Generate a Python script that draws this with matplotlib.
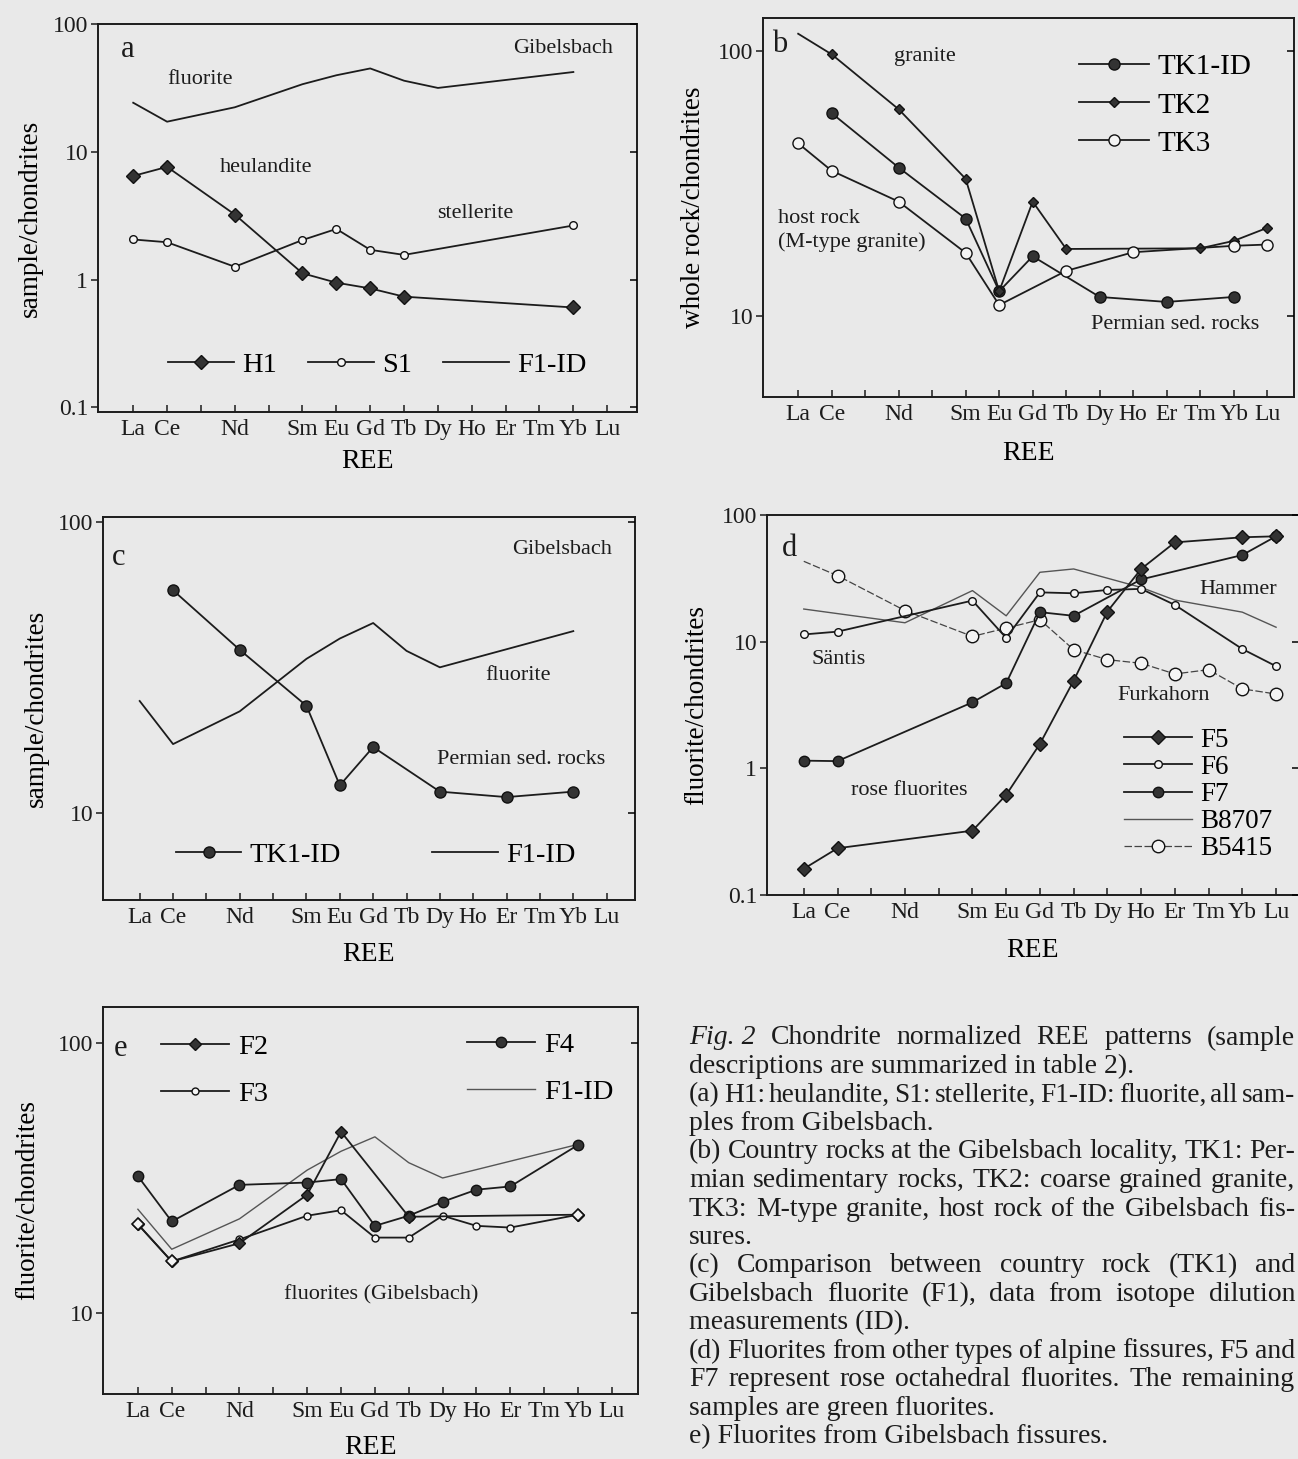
import numpy as np
import matplotlib
matplotlib.use("Agg")
import matplotlib.pyplot as plt
from matplotlib.ticker import FuncFormatter, NullLocator, NullFormatter

plt.rcParams['font.family'] = ['Liberation Serif', 'DejaVu Serif']

W, H = 1298, 1459
BG = '#e9e9e9'
INK = '#1c1c1c'
nan = np.nan

# ---- data ------------------------------------------------------------------
ree = ['La', 'Ce', 'Pr', 'Nd', 'Pm', 'Sm', 'Eu', 'Gd', 'Tb', 'Dy', 'Ho', 'Er', 'Tm', 'Yb', 'Lu']
ree_labels = ['La', 'Ce', '', 'Nd', '', 'Sm', 'Eu', 'Gd', 'Tb', 'Dy', 'Ho', 'Er', 'Tm', 'Yb', 'Lu']

# Gibelsbach fluorite (isotope dilution), used in a, c, e
f1_id = [24.2, 17.2, nan, 22.3, nan, 33.8, 39.7, 44.9, 36.0, 31.6, nan, nan, nan, 42.1, nan]
# (a)
h1 = [6.47, 7.62, nan, 3.23, nan, 1.12, 0.946, 0.853, 0.735, nan, nan, nan, nan, 0.605, nan]
s1 = [2.06, 1.96, nan, 1.26, nan, 2.04, 2.49, 1.71, 1.56, nan, nan, nan, nan, 2.65, nan]
# (b), (c)
tk1_id = [nan, 58.2, nan, 36.3, nan, 23.3, 12.4, 16.8, nan, 11.8, nan, 11.3, nan, 11.8, nan]
tk2 = [116, 97.0, nan, 60.2, nan, 32.9, 12.4, 27.0, 17.9, nan, nan, nan, 18.0, 19.2, 21.5]
tk3 = [44.8, 35.3, nan, 27.0, nan, 17.3, 11.0, nan, 14.8, nan, 17.4, nan, nan, 18.4, 18.6]
# (d)
f5 = [0.161, 0.234, nan, nan, nan, 0.322, 0.617, 1.56, 4.92, 17.3, 37.5, 60.8, nan, 66.7, 67.9]
f6 = [11.4, 12.0, nan, nan, nan, 21.1, 10.7, 24.5, 24.1, 25.6, 26.1, 19.5, nan, 8.75, 6.4]
f7 = [1.15, 1.14, nan, nan, nan, 3.32, 4.7, 17.1, 16.0, nan, 31.0, nan, nan, 48.3, 67.9]
b8707 = [18.1, nan, nan, 14.1, nan, 25.3, 16.0, 35.3, 37.5, nan, 26.8, 21.3, nan, 17.1, 13.0]
b5415 = [43.1, 33.2, nan, 17.6, nan, 11.0, 12.8, 14.9, 8.65, 7.21, 6.75, 5.56, 6.01, 4.24, 3.86]
# (e)
f2 = [21.3, 15.5, nan, 18.1, nan, 27.4, 46.9, nan, 22.7, nan, nan, nan, nan, 23.1, nan]
f3 = [21.3, 15.5, nan, 18.7, nan, 22.9, 24.0, 19.0, 19.0, 22.9, 21.0, 20.7, nan, 23.1, nan]
f4 = [32.1, 21.8, nan, 29.8, nan, 30.4, 31.3, 21.0, 22.9, 25.8, 28.6, 29.4, nan, 41.9, nan]

caption_lines = [
    ("Fig. 2  Chondrite normalized REE patterns (sample", True),
    ("descriptions are summarized in table 2).", False),
    ("(a) H1: heulandite, S1: stellerite, F1-ID: fluorite, all sam-", True),
    ("ples from Gibelsbach.", False),
    ("(b) Country rocks at the Gibelsbach locality, TK1: Per-", True),
    ("mian sedimentary rocks, TK2: coarse grained granite,", True),
    ("TK3: M-type granite, host rock of the Gibelsbach fis-", True),
    ("sures.", False),
    ("(c) Comparison between country rock (TK1) and", True),
    ("Gibelsbach fluorite (F1), data from isotope dilution", True),
    ("measurements (ID).", False),
    ("(d) Fluorites from other types of alpine fissures, F5 and", True),
    ("F7 represent rose octahedral fluorites. The remaining", True),
    ("samples are green fluorites.", False),
    ("e) Fluorites from Gibelsbach fissures.", False),
]

# ---- helpers ---------------------------------------------------------------
x_all = np.arange(len(ree))


def make_axes(fig, left, right, top, bottom):
    return fig.add_axes([left / W, 1 - bottom / H, (right - left) / W, (bottom - top) / H])


def setup(ax, xlim, ylim, ylabel, ylab_off, xlab_off):
    ax.set_facecolor(BG)
    ax.set_yscale('log')
    ax.set_xlim(*xlim)
    ax.set_ylim(*ylim)
    ax.set_xticks(x_all)
    ax.set_xticklabels(ree_labels, fontsize=17)
    ax.tick_params(axis='x', direction='in', length=5, width=1.1, pad=5, colors=INK)
    ax.tick_params(axis='y', direction='out', length=5, width=1.1, pad=2, labelsize=17, colors=INK)
    ax.yaxis.set_minor_locator(NullLocator())
    ax.yaxis.set_major_formatter(FuncFormatter(lambda v, p: f'{v:g}'))
    for s in ax.spines.values():
        s.set_linewidth(1.4)
        s.set_color(INK)
    ax.set_ylabel(ylabel, fontsize=19.5)
    ax.yaxis.set_label_coords(ylab_off, 0.5)
    ax.set_xlabel('REE', fontsize=20)
    ax.xaxis.set_label_coords(0.5, xlab_off)
    ax.xaxis.label.set_va('center')
    ax.yaxis.label.set_va('center')
    # right-hand ticks point inward
    tw = ax.twinx()
    tw.set_yscale('log')
    tw.set_ylim(*ylim)
    tw.yaxis.set_minor_locator(NullLocator())
    tw.yaxis.set_major_formatter(NullFormatter())
    tw.tick_params(axis='y', direction='in', length=5, width=1.1)
    for s in tw.spines.values():
        s.set_visible(False)


def series(ax, y, label, marker=None, ms=7, filled=True, lw=1.3, color=INK,
           ls='-', skip_first_marker=False, z=3):
    y = np.asarray(y, float)
    m = ~np.isnan(y)
    xs, ys = x_all[m], y[m]
    kw = dict(color=color, lw=lw, ls=ls, label=label, zorder=z)
    if marker:
        kw.update(marker=marker, ms=ms, mec='#111111', mew=1.0,
                  mfc='#333333' if filled else '#f4f4f4')
        if skip_first_marker:
            kw['markevery'] = list(range(1, len(xs)))
    line, = ax.plot(xs, ys, **kw)
    return line


def note(ax, fx, fy, s, size=16, ha='center'):
    ax.text(fx, fy, s, transform=ax.transAxes, fontsize=size, ha=ha, va='center', color=INK)


leg_kw = dict(frameon=False, borderpad=0, borderaxespad=0, handletextpad=0.3, numpoints=1)

fig = plt.figure(figsize=(W / 100, H / 100), dpi=100)
fig.patch.set_facecolor(BG)

# ---- (a) -------------------------------------------------------------------
ax = make_axes(fig, 98, 637, 24, 412)
setup(ax, (-1.04, 14.88), (0.092, 100), 'sample/chondrites', -0.126, -0.128)
la = series(ax, h1, 'H1', 'D', ms=7.4)
lb = series(ax, s1, 'S1', 'o', ms=5.5, filled=False)
lc = series(ax, f1_id, 'F1-ID')
ax.legend(handles=[la, lb, lc], loc='center left', bbox_to_anchor=(0.13, 0.12), ncol=3,
          fontsize=20.5, handlelength=2.3, columnspacing=1.1, **leg_kw)
note(ax, 0.056, 0.935, 'a', size=22)
note(ax, 0.862, 0.938, 'Gibelsbach')
note(ax, 0.19, 0.857, 'fluorite')
note(ax, 0.311, 0.630, 'heulandite')
note(ax, 0.699, 0.512, 'stellerite')

# ---- (b) -------------------------------------------------------------------
ax = make_axes(fig, 763, 1294, 18, 397)
setup(ax, (-1.05, 14.8), (4.95, 133), 'whole rock/chondrites', -0.13, -0.148)
l1 = series(ax, tk1_id, 'TK1-ID', 'o', ms=8)
l2 = series(ax, tk2, 'TK2', 'D', ms=4.8, skip_first_marker=True)
l3 = series(ax, tk3, 'TK3', 'o', ms=8, filled=False)
ax.legend(handles=[l1, l2, l3], loc='upper left', bbox_to_anchor=(0.595, 0.905),
          fontsize=21, handlelength=2.4, labelspacing=0.4, **leg_kw)
note(ax, 0.032, 0.93, 'b', size=22)
note(ax, 0.305, 0.898, 'granite')
note(ax, 0.028, 0.472, 'host rock', ha='left')
note(ax, 0.028, 0.409, '(M-type granite)', ha='left')
note(ax, 0.776, 0.19, 'Permian sed. rocks')

# ---- (c) -------------------------------------------------------------------
ax = make_axes(fig, 103, 635, 517, 900)
setup(ax, (-1.1, 14.85), (5.0, 104), 'sample/chondrites', -0.126, -0.143)
l1 = series(ax, tk1_id, 'TK1-ID', 'o', ms=8)
l2 = series(ax, f1_id, 'F1-ID')
ax.legend(handles=[l1, l2], loc='center left', bbox_to_anchor=(0.137, 0.117), ncol=2,
          fontsize=20.5, handlelength=2.3, columnspacing=3.2, **leg_kw)
note(ax, 0.03, 0.893, 'c', size=22)
note(ax, 0.863, 0.916, 'Gibelsbach')
note(ax, 0.78, 0.587, 'fluorite')
note(ax, 0.786, 0.366, 'Permian sed. rocks')

# ---- (d) -------------------------------------------------------------------
ax = make_axes(fig, 767, 1299, 515, 895)
setup(ax, (-1.09, 14.68), (0.1, 100), 'fluorite/chondrites', -0.133, -0.145)
l5 = series(ax, f5, 'F5', 'D', ms=7.4, z=5)
l6 = series(ax, f6, 'F6', 'o', ms=5.5, filled=False, z=4)
l7 = series(ax, f7, 'F7', 'o', ms=7.5, z=4)
l8 = series(ax, b8707, 'B8707', lw=1.0, color='#555555', z=2)
l9 = series(ax, b5415, 'B5415', 'o', ms=9, filled=False, lw=0.9, color='#444444',
            ls=(0, (6, 2)), skip_first_marker=True, z=3)
ax.legend(handles=[l5, l6, l7, l8, l9], loc='upper left', bbox_to_anchor=(0.671, 0.44),
          fontsize=19.5, handlelength=2.5, labelspacing=0.08, **leg_kw)
note(ax, 0.042, 0.912, 'd', size=22)
note(ax, 0.134, 0.621, 'Säntis')
note(ax, 0.886, 0.803, 'Hammer')
note(ax, 0.745, 0.524, 'Furkahorn')
note(ax, 0.268, 0.276, 'rose fluorites')

# ---- (e) -------------------------------------------------------------------
ax = make_axes(fig, 103, 638, 1007, 1394)
setup(ax, (-1.03, 14.77), (5.0, 136), 'fluorite/chondrites', -0.14, -0.137)
l2 = series(ax, f2, 'F2', 'D', ms=6.3, z=4)
l3 = series(ax, f3, 'F3', 'o', ms=5, filled=False, z=3)
l4 = series(ax, f4, 'F4', 'o', ms=7.5, z=3)
l1 = series(ax, f1_id, 'F1-ID', lw=1.0, color='#555555', z=2)
# where F2 and F3 coincide the diamond is printed open
a2, a3 = np.asarray(f2, float), np.asarray(f3, float)
same = ~np.isnan(a2) & (a2 == a3)
ax.plot(x_all[same], a2[same], ls='none', marker='D', ms=6.3, mfc='#f4f4f4',
        mec='#111111', mew=1.2, zorder=6)
leg1 = ax.legend(handles=[l2, l3], loc='upper left', bbox_to_anchor=(0.108, 0.93),
                 fontsize=20.5, handlelength=2.4, labelspacing=0.75, **leg_kw)
ax.add_artist(leg1)
ax.legend(handles=[l4, l1], loc='upper left', bbox_to_anchor=(0.68, 0.935),
          fontsize=20.5, handlelength=2.4, labelspacing=0.75, **leg_kw)
note(ax, 0.032, 0.894, 'e', size=22)
note(ax, 0.52, 0.256, 'fluorites (Gibelsbach)')

# ---- caption ---------------------------------------------------------------
renderer = fig.canvas.get_renderer()
cap_left, cap_right = 689, 1295
for i, (line, justify) in enumerate(caption_lines):
    y = 1 - (1038 + i * 28.5) / H
    if not justify:
        fig.text(cap_left / W, y, line, fontsize=20, va='center', ha='left', color=INK)
        continue
    if line.startswith('Fig. 2'):
        words = ['Fig. 2'] + line[len('Fig. 2'):].split()
    else:
        words = line.split()
    size = 20.0
    while True:
        texts = [fig.text(0, y, w, fontsize=size, va='center', ha='left', color=INK,
                          style='italic' if w == 'Fig. 2' else 'normal') for w in words]
        widths = [t.get_window_extent(renderer).width for t in texts]
        gap = (cap_right - cap_left - sum(widths)) / (len(words) - 1)
        if gap >= 4 or size <= 16:
            break
        for t in texts:
            t.remove()
        size -= 0.25
    x = cap_left
    for t, wd in zip(texts, widths):
        t.set_x(x / W)
        x += wd + gap

fig.savefig('out.png', dpi=100, facecolor=BG)
